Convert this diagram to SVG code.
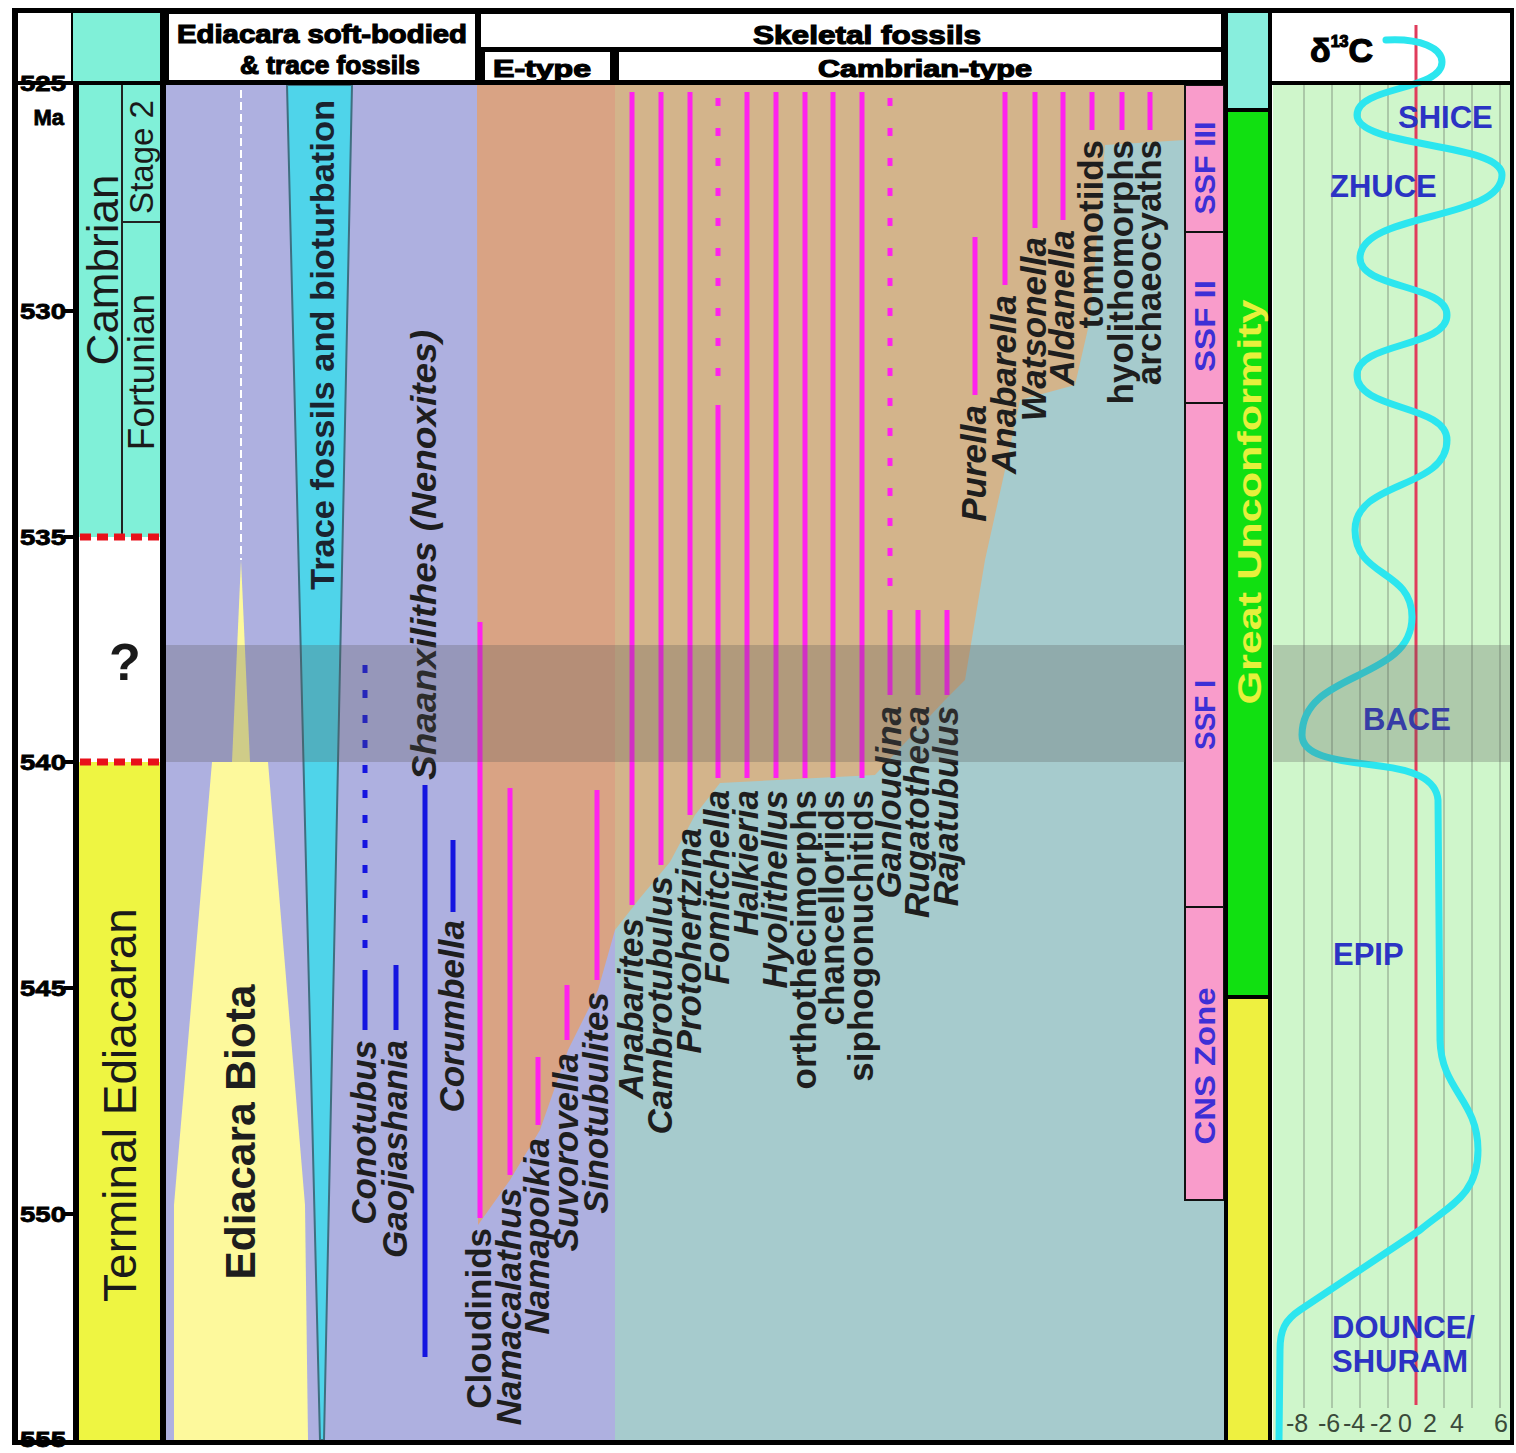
<svg xmlns="http://www.w3.org/2000/svg" width="1516" height="1453" viewBox="0 0 1516 1453">
<style>
.lab{font-family:"Liberation Sans",Arial,sans-serif;font-weight:bold;font-size:35px;fill:#1e1e1e}
.it{font-style:italic}
.hdr{font-family:"Liberation Sans",Arial,sans-serif;font-weight:bold;font-size:26px;fill:#000;stroke:#000;stroke-width:1.2}
.age{font-family:"Liberation Sans",Arial,sans-serif;font-weight:bold;font-size:22px;fill:#000;stroke:#000;stroke-width:0.8}
.per{font-family:"Liberation Sans",Arial,sans-serif;fill:#1a1a1a}
.ssf{font-family:"Liberation Sans Narrow","Liberation Sans",Arial,sans-serif;font-weight:bold;font-size:30px;fill:#3d2fd6}
.iso{font-family:"Liberation Sans",Arial,sans-serif;font-weight:bold;font-size:31px;fill:#2b33c4}
.ax{font-family:"Liberation Sans",Arial,sans-serif;font-size:25px;fill:#3a4a3a}
.mg{stroke:#ff22ee;stroke-width:5;fill:none}
.bl{stroke:#1515e0;stroke-width:5;fill:none}
.grid{stroke:#9fb89c;stroke-width:1.5}
</style>
<rect width="1516" height="1453" fill="#fff"/>

<g id="backgrounds">
  <rect x="166" y="85" width="449" height="1355" fill="#aeb0e0"/>
  <polygon points="477,85 615,85 615,930 598,990 568,1050 540,1130 510,1180 478,1225" fill="#d9a384"/>
  <rect x="615" y="85" width="570" height="1355" fill="#a6cbcd"/>
  <rect x="1185" y="1200" width="40" height="240" fill="#a6cbcd"/>
  <polygon points="615,85 1185,85 1185,140 1105,145 1090,320 1075,385 1020,400 1005,470 985,560 965,680 945,700 875,775 720,783 695,815 670,862 640,898 615,930" fill="#d3b48b"/>
</g>

<g id="period-column">
  <rect x="79" y="85" width="82" height="452" fill="#80f0d8"/>
  <rect x="79" y="537" width="82" height="225" fill="#fff"/>
  <rect x="79" y="762" width="82" height="678" fill="#eef542"/>
  <line x1="122" y1="85" x2="122" y2="537" stroke="#222" stroke-width="2"/>
  <line x1="122" y1="222" x2="161" y2="222" stroke="#222" stroke-width="2"/>
  <line x1="80" y1="537" x2="160" y2="537" stroke="#e8101a" stroke-width="7" stroke-dasharray="11 6"/>
  <line x1="80" y1="762" x2="160" y2="762" stroke="#e8101a" stroke-width="7" stroke-dasharray="11 6"/>
  <text class="per" font-size="44" text-anchor="middle" transform="translate(118,270) rotate(-90)">Cambrian</text>
  <text class="per" font-size="33" text-anchor="middle" transform="translate(153,157) rotate(-90)">Stage 2</text>
  <text class="per" font-size="37" text-anchor="middle" transform="translate(154,372) rotate(-90)">Fortunian</text>
  <text class="per" font-size="46" text-anchor="middle" transform="translate(136,1105) rotate(-90)">Terminal Ediacaran</text>
  <text class="per" font-size="52" font-weight="bold" text-anchor="middle" x="125" y="680">?</text>
</g>

<g id="soft-bodied">
  <line x1="241" y1="90" x2="241" y2="560" stroke="#fff" stroke-width="2" stroke-dasharray="8 4"/>
  <polygon points="241,560 250,762 232,762" fill="#fdf99c"/>
  <polygon points="212,762 268,762 305,1205 308,1440 174,1440 174,1205" fill="#fdf99c"/>
  <polygon points="287,85 352,85 324,1440 320,1440" fill="#4fd4ea" stroke="#3f6f80" stroke-width="2"/>
  <text class="lab" style="font-size:34px;fill:#1a2430" textLength="490" lengthAdjust="spacingAndGlyphs" text-anchor="middle" transform="translate(334,345) rotate(-90)">Trace fossils and bioturbation</text>
  <text class="lab" style="font-size:42px" textLength="295" lengthAdjust="spacingAndGlyphs" text-anchor="middle" transform="translate(255,1132) rotate(-90)">Ediacara Biota</text>
</g>

<g id="ranges">
  <line class="bl" x1="365" y1="970" x2="365" y2="1030"/>
  <line class="bl" x1="365" y1="665" x2="365" y2="962" stroke-dasharray="8 17"/>
  <line class="bl" x1="396" y1="965" x2="396" y2="1030"/>
  <line class="bl" x1="425" y1="785" x2="425" y2="1357"/>
  <line class="bl" x1="453" y1="840" x2="453" y2="912"/>
  <line class="mg" x1="480" y1="622" x2="480" y2="1218"/>
  <line class="mg" x1="510" y1="788" x2="510" y2="1175"/>
  <line class="mg" x1="538" y1="1057" x2="538" y2="1125"/>
  <line class="mg" x1="567" y1="985" x2="567" y2="1040"/>
  <line class="mg" x1="597" y1="790" x2="597" y2="980"/>
  <line class="mg" x1="632" y1="92" x2="632" y2="905"/>
  <line class="mg" x1="661" y1="92" x2="661" y2="865"/>
  <line class="mg" x1="690" y1="92" x2="690" y2="815"/>
  <line class="mg" x1="718" y1="98" x2="718" y2="398" stroke-dasharray="8 22"/>
  <line class="mg" x1="718" y1="405" x2="718" y2="778"/>
  <line class="mg" x1="747" y1="92" x2="747" y2="778"/>
  <line class="mg" x1="776" y1="92" x2="776" y2="778"/>
  <line class="mg" x1="805" y1="92" x2="805" y2="778"/>
  <line class="mg" x1="833" y1="92" x2="833" y2="778"/>
  <line class="mg" x1="862" y1="92" x2="862" y2="778"/>
  <line class="mg" x1="890" y1="98" x2="890" y2="595" stroke-dasharray="8 22"/>
  <line class="mg" x1="890" y1="610" x2="890" y2="695"/>
  <line class="mg" x1="918" y1="610" x2="918" y2="695"/>
  <line class="mg" x1="947" y1="610" x2="947" y2="695"/>
  <line class="mg" x1="975" y1="237" x2="975" y2="395"/>
  <line class="mg" x1="1005" y1="92" x2="1005" y2="285"/>
  <line class="mg" x1="1035" y1="92" x2="1035" y2="228"/>
  <line class="mg" x1="1063" y1="92" x2="1063" y2="220"/>
  <line class="mg" x1="1092" y1="92" x2="1092" y2="130"/>
  <line class="mg" x1="1122" y1="92" x2="1122" y2="130"/>
  <line class="mg" x1="1150" y1="92" x2="1150" y2="130"/>
</g>

<g id="taxon-labels">
  <text class="lab it" text-anchor="end" transform="translate(376,1040) rotate(-90)">Conotubus</text>
  <text class="lab it" text-anchor="end" transform="translate(407,1040) rotate(-90)">Gaojiashania</text>
  <text class="lab it" text-anchor="start" textLength="450" lengthAdjust="spacingAndGlyphs" transform="translate(436,780) rotate(-90)">Shaanxilithes (Nenoxites)</text>
  <text class="lab it" text-anchor="end" transform="translate(464,920) rotate(-90)">Corumbella</text>
  <text class="lab" text-anchor="end" transform="translate(491,1228) rotate(-90)">Cloudinids</text>
  <text class="lab it" text-anchor="end" transform="translate(521,1188) rotate(-90)">Namacalathus</text>
  <text class="lab it" text-anchor="end" transform="translate(549,1138) rotate(-90)">Namapoikia</text>
  <text class="lab it" text-anchor="end" transform="translate(578,1053) rotate(-90)">Suvorovella</text>
  <text class="lab it" text-anchor="end" transform="translate(608,992) rotate(-90)">Sinotubulites</text>
  <text class="lab it" text-anchor="end" transform="translate(643,918) rotate(-90)">Anabarites</text>
  <text class="lab it" text-anchor="end" transform="translate(672,876) rotate(-90)">Cambrotubulus</text>
  <text class="lab it" text-anchor="end" transform="translate(701,828) rotate(-90)">Protohertzina</text>
  <text class="lab it" text-anchor="end" transform="translate(729,790) rotate(-90)">Fomitchella</text>
  <text class="lab it" text-anchor="end" transform="translate(758,790) rotate(-90)">Halkieria</text>
  <text class="lab it" text-anchor="end" transform="translate(787,790) rotate(-90)">Hyolithellus</text>
  <text class="lab" text-anchor="end" transform="translate(816,790) rotate(-90)">orthothecimorphs</text>
  <text class="lab" text-anchor="end" transform="translate(844,790) rotate(-90)">chancelloriids</text>
  <text class="lab" text-anchor="end" transform="translate(873,790) rotate(-90)">siphogonuchitids</text>
  <text class="lab it" text-anchor="end" transform="translate(901,706) rotate(-90)">Ganloudina</text>
  <text class="lab it" text-anchor="end" transform="translate(929,706) rotate(-90)">Rugatotheca</text>
  <text class="lab it" text-anchor="end" transform="translate(958,706) rotate(-90)">Rajatubulus</text>
  <text class="lab it" text-anchor="end" transform="translate(986,405) rotate(-90)">Purella</text>
  <text class="lab it" text-anchor="end" transform="translate(1016,295) rotate(-90)">Anabarella</text>
  <text class="lab it" text-anchor="end" transform="translate(1046,237) rotate(-90)">Watsonella</text>
  <text class="lab it" text-anchor="end" transform="translate(1074,230) rotate(-90)">Aldanella</text>
  <text class="lab" text-anchor="end" transform="translate(1103,140) rotate(-90)">tommotiids</text>
  <text class="lab" text-anchor="end" transform="translate(1133,140) rotate(-90)">hyolithomorphs</text>
  <text class="lab" text-anchor="end" transform="translate(1161,140) rotate(-90)">archaeocyaths</text>
</g>

<g id="ssf-zones">
  <rect x="1185" y="85" width="39" height="1115" fill="#f99ccb" stroke="#111" stroke-width="2"/>
  <line x1="1185" y1="232" x2="1224" y2="232" stroke="#111" stroke-width="2"/>
  <line x1="1185" y1="403" x2="1224" y2="403" stroke="#111" stroke-width="2"/>
  <line x1="1185" y1="907" x2="1224" y2="907" stroke="#111" stroke-width="2"/>
  <text class="ssf" text-anchor="middle" textLength="93" lengthAdjust="spacingAndGlyphs" transform="translate(1215,168) rotate(-90)">SSF III</text>
  <text class="ssf" text-anchor="middle" textLength="92" lengthAdjust="spacingAndGlyphs" transform="translate(1215,326) rotate(-90)">SSF II</text>
  <text class="ssf" text-anchor="middle" textLength="70" lengthAdjust="spacingAndGlyphs" transform="translate(1215,715) rotate(-90)">SSF I</text>
  <text class="ssf" text-anchor="middle" textLength="157" lengthAdjust="spacingAndGlyphs" transform="translate(1215,1066) rotate(-90)">CNS Zone</text>
</g>

<g id="great-unconformity">
  <rect x="1224" y="8" width="48" height="1437" fill="#000"/>
  <rect x="1228" y="13" width="40" height="95" fill="#88eedd"/>
  <rect x="1228" y="112" width="40" height="883" fill="#11e011"/>
  <rect x="1228" y="999" width="40" height="441" fill="#eef040"/>
  <text class="ssf" style="font-size:34px;fill:#e6f03c" text-anchor="middle" textLength="405" lengthAdjust="spacingAndGlyphs" transform="translate(1261,502) rotate(-90)">Great Unconformity</text>
</g>

<g id="carbon-isotope">
  <rect x="1273" y="85" width="237" height="1355" fill="#cff6cb"/>
  <rect x="1273" y="13" width="237" height="68" fill="#fff"/>
  <g class="grid">
    <line x1="1304" y1="85" x2="1304" y2="1408"/>
    <line x1="1332" y1="85" x2="1332" y2="1408"/>
    <line x1="1360" y1="85" x2="1360" y2="1408"/>
    <line x1="1388" y1="85" x2="1388" y2="1408"/>
    <line x1="1444" y1="85" x2="1444" y2="1408"/>
    <line x1="1472" y1="85" x2="1472" y2="1408"/>
    <line x1="1500" y1="85" x2="1500" y2="1408"/>
  </g>
  <line x1="1416" y1="25" x2="1416" y2="1405" stroke="#e03c5c" stroke-width="3"/>
  <path d="M1386,40 C1420,38 1442,48 1442,62 C1442,91 1357,86 1357,115 C1357,148 1502,142 1502,175 C1502,221 1360,212 1360,258 C1360,289 1447,284 1447,315 C1447,348 1357,342 1357,375 C1357,411 1447,404 1447,440 C1447,490 1355,480 1355,530 C1355,578 1412,569 1412,617 C1412,682 1302,670 1302,735 C1302,755 1330,760 1380,766 C1412,770 1436,778 1438,800 L1440,1040 C1441,1090 1478,1100 1478,1150 C1478,1195 1450,1205 1420,1230 L1300,1310 C1285,1320 1280,1330 1280,1350 L1279,1440" fill="none" stroke="#2ce6ef" stroke-width="7" stroke-linecap="round" stroke-linejoin="round"/>
  <text class="hdr" style="font-size:34px" x="1310" y="62">δ<tspan style="font-size:16px" dy="-15">13</tspan><tspan dy="15">C</tspan></text>
  <text class="iso" x="1398" y="128">SHICE</text>
  <text class="iso" x="1330" y="197">ZHUCE</text>
  <text class="iso" x="1363" y="730">BACE</text>
  <text class="iso" x="1333" y="965">EPIP</text>
  <text class="iso" x="1332" y="1338">DOUNCE/</text>
  <text class="iso" x="1332" y="1372">SHURAM</text>
  <g class="ax" text-anchor="middle">
    <text x="1297" y="1432">-8</text>
    <text x="1329" y="1432">-6</text>
    <text x="1354" y="1432">-4</text>
    <text x="1381" y="1432">-2</text>
    <text x="1405" y="1432">0</text>
    <text x="1430" y="1432">2</text>
    <text x="1457" y="1432">4</text>
    <text x="1501" y="1432">6</text>
  </g>
</g>

<g id="band">
  <rect x="166" y="645" width="1019" height="117" fill="#555" fill-opacity="0.27"/>
  <rect x="1273" y="645" width="237" height="117" fill="#555" fill-opacity="0.27"/>
</g>

<g id="header">
  <rect x="163" y="8" width="1063" height="77" fill="#000"/>
  <rect x="169" y="14" width="306" height="66" fill="#fff"/>
  <rect x="481" y="14" width="740" height="33" fill="#fff"/>
  <rect x="485" y="52" width="125" height="28" fill="#fff"/>
  <rect x="619" y="52" width="602" height="28" fill="#fff"/>
  <text class="hdr" text-anchor="middle" x="322" y="43" textLength="290" lengthAdjust="spacingAndGlyphs">Ediacara soft-bodied</text>
  <text class="hdr" text-anchor="middle" x="330" y="74" textLength="180" lengthAdjust="spacingAndGlyphs">&amp; trace fossils</text>
  <text class="hdr" text-anchor="middle" x="867" y="44" textLength="228" lengthAdjust="spacingAndGlyphs">Skeletal fossils</text>
  <text class="hdr" style="font-size:24px" text-anchor="middle" x="542" y="77" textLength="98" lengthAdjust="spacingAndGlyphs">E-type</text>
  <text class="hdr" style="font-size:24px" text-anchor="middle" x="925" y="77" textLength="214" lengthAdjust="spacingAndGlyphs">Cambrian-type</text>
  <rect x="73" y="13" width="89" height="69" fill="#80f0d8"/>
</g>

<g id="frame">
  <rect x="14" y="8" width="1498" height="5" fill="#000"/>
  <rect x="12" y="8" width="6" height="1437" fill="#000"/>
  <rect x="12" y="1440" width="1500" height="5" fill="#000"/>
  <rect x="1510" y="8" width="4" height="1437" fill="#000"/>
  <rect x="14" y="81" width="1212" height="4" fill="#000"/>
  <rect x="1270" y="81" width="242" height="4" fill="#000"/>
  <rect x="71" y="8" width="2" height="75" fill="#000"/>
  <rect x="73" y="83" width="6" height="1360" fill="#000"/>
  <rect x="160" y="8" width="6" height="1437" fill="#000"/>
</g>

<g id="age-axis">
  <g class="age" text-anchor="end">
    <text x="66" y="91" textLength="46" lengthAdjust="spacingAndGlyphs">525</text>
    <text x="64" y="125">Ma</text>
    <text x="66" y="319" textLength="46" lengthAdjust="spacingAndGlyphs">530</text>
    <text x="66" y="545" textLength="46" lengthAdjust="spacingAndGlyphs">535</text>
    <text x="66" y="770" textLength="46" lengthAdjust="spacingAndGlyphs">540</text>
    <text x="66" y="996" textLength="46" lengthAdjust="spacingAndGlyphs">545</text>
    <text x="66" y="1222" textLength="46" lengthAdjust="spacingAndGlyphs">550</text>
    <text x="66" y="1447" textLength="46" lengthAdjust="spacingAndGlyphs">555</text>
  </g>
  <g stroke="#000" stroke-width="4">
    <line x1="64" y1="83" x2="76" y2="83"/>
    <line x1="64" y1="311" x2="76" y2="311"/>
    <line x1="64" y1="537" x2="76" y2="537"/>
    <line x1="64" y1="762" x2="76" y2="762"/>
    <line x1="64" y1="988" x2="76" y2="988"/>
    <line x1="64" y1="1214" x2="76" y2="1214"/>
  </g>
</g>
</svg>
